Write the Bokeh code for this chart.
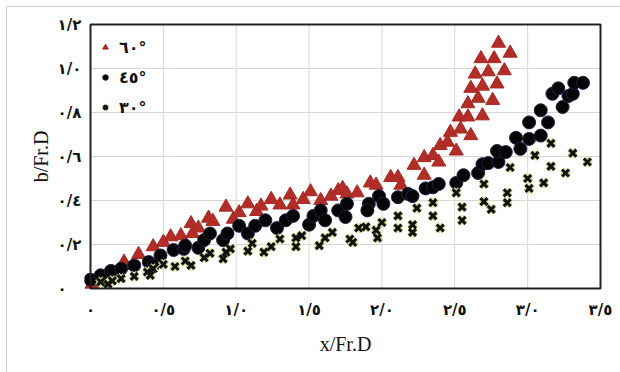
from math import pi
from bokeh.plotting import figure
from bokeh.models import Legend, LegendItem, Range1d, BoxAnnotation
from bokeh.layouts import row
from bokeh.core.properties import value
from bokeh.embed import file_html
from bokeh.resources import INLINE

# ---- data ----
x_60 = [0.01, 0.05, 0.14, 0.23, 0.24, 0.33, 0.43, 0.50, 0.55, 0.62, 0.69, 0.70, 0.74, 0.81, 0.84,
        0.93, 0.98, 1.02, 1.08, 1.14, 1.17, 1.24, 1.30, 1.37, 1.39, 1.46, 1.51, 1.58, 1.65, 1.70,
        1.73, 1.76, 1.83, 1.92, 1.96, 2.06, 2.11, 2.13, 2.22, 2.29, 2.29, 2.35, 2.39, 2.40, 2.45,
        2.47, 2.51, 2.54, 2.53, 2.59, 2.61, 2.59, 2.61, 2.66, 2.64, 2.69, 2.69, 2.68, 2.73, 2.76,
        2.77, 2.79, 2.80, 2.84, 2.88]
b_60 = [0.02, 0.045, 0.07, 0.12, 0.105, 0.155, 0.19, 0.21, 0.235, 0.24, 0.295, 0.25, 0.275, 0.32, 0.305,
        0.37, 0.315, 0.345, 0.385, 0.35, 0.375, 0.405, 0.38, 0.425, 0.38, 0.405, 0.44, 0.40, 0.42, 0.445,
        0.455, 0.43, 0.435, 0.48, 0.47, 0.505, 0.505, 0.47, 0.56, 0.595, 0.515, 0.605, 0.575, 0.65, 0.665,
        0.71, 0.625, 0.725, 0.78, 0.78, 0.695, 0.84, 0.91, 0.865, 0.975, 0.92, 0.785, 1.045, 0.985, 0.855,
        1.045, 0.93, 1.115, 0.99, 1.07]

x_45 = [0.00, 0.07, 0.14, 0.21, 0.30, 0.40, 0.43, 0.48, 0.57, 0.64, 0.65, 0.74, 0.78, 0.82, 0.91,
        0.94, 1.02, 1.08, 1.13, 1.20, 1.28, 1.34, 1.39, 1.50, 1.53, 1.58, 1.61, 1.70, 1.76, 1.75,
        1.91, 1.90, 1.98, 2.01, 2.11, 2.18, 2.21, 2.30, 2.35, 2.39, 2.51, 2.56, 2.66, 2.69, 2.73,
        2.80, 2.79, 2.85, 2.92, 2.95, 3.01, 3.01, 3.09, 3.09, 3.14, 3.17, 3.21, 3.24, 3.28, 3.31,
        3.32, 3.38]
b_45 = [0.04, 0.06, 0.08, 0.09, 0.105, 0.12, 0.105, 0.15, 0.175, 0.18, 0.195, 0.185, 0.22, 0.25, 0.22,
        0.25, 0.285, 0.25, 0.285, 0.31, 0.275, 0.31, 0.33, 0.29, 0.33, 0.355, 0.31, 0.355, 0.385, 0.325,
        0.385, 0.355, 0.42, 0.385, 0.415, 0.43, 0.42, 0.455, 0.46, 0.475, 0.48, 0.515, 0.525, 0.565, 0.57,
        0.575, 0.625, 0.62, 0.685, 0.635, 0.68, 0.755, 0.695, 0.81, 0.755, 0.885, 0.91, 0.825, 0.875, 0.885,
        0.935, 0.935]

x_30 = [0.07, 0.12, 0.15, 0.21, 0.30, 0.39, 0.41, 0.43, 0.50, 0.58, 0.65, 0.69, 0.78, 0.82, 0.91,
        0.93, 0.96, 1.08, 1.11, 1.19, 1.24, 1.30, 1.41, 1.41, 1.45, 1.57, 1.61, 1.66, 1.78, 1.80,
        1.84, 1.89, 1.96, 1.97, 2.00, 2.11, 2.11, 2.21, 2.21, 2.24, 2.35, 2.35, 2.40, 2.51, 2.55,
        2.55, 2.70, 2.70, 2.75, 2.86, 2.86, 2.88, 3.00, 3.01, 3.05, 3.11, 3.16, 3.16, 3.26, 3.31,
        3.41]
b_30 = [0.03, 0.02, 0.035, 0.045, 0.055, 0.075, 0.06, 0.09, 0.11, 0.10, 0.125, 0.105, 0.14, 0.16, 0.135,
        0.165, 0.18, 0.17, 0.205, 0.165, 0.19, 0.225, 0.19, 0.23, 0.24, 0.195, 0.23, 0.255, 0.225, 0.21,
        0.275, 0.28, 0.265, 0.23, 0.30, 0.33, 0.275, 0.29, 0.255, 0.365, 0.39, 0.33, 0.275, 0.435, 0.37,
        0.31, 0.475, 0.395, 0.36, 0.435, 0.39, 0.55, 0.50, 0.455, 0.605, 0.48, 0.66, 0.555, 0.525, 0.615,
        0.575]

series_labels = ["٦٠°", "٤٥°", "٣٠°"]

x_ticks = [0, 0.5, 1.0, 1.5, 2.0, 2.5, 3.0, 3.5]
x_tick_labels = ["٠", "٠/٥", "١/٠", "١/٥", "٢/٠", "٢/٥", "٣/٠", "٣/٥"]
y_ticks = [0, 0.2, 0.4, 0.6, 0.8, 1.0, 1.2]
y_tick_labels = ["٠", "٠/٢", "٠/٤", "٠/٦", "٠/٨", "١/٠", "١/٢"]
x_title = "x/Fr.D"
y_title = "b/Fr.D"

# ---- layout constants (pixels) ----
H = 365                 # height of both panels
TOP, BOTTOM = 17, 84    # space above / below the data box
LEFT_W = 77             # width of the label strip on the left
MAIN_W = 536            # width of the main panel
PAD_L, PAD_R = 6, 20    # space left / right of the data box in the main panel
x_min, x_max = x_ticks[0], x_ticks[-1]
y_min, y_max = y_ticks[0], y_ticks[-1]
ppu = (H - TOP - BOTTOM) / (y_max - y_min)          # pixels per y unit
ppx = (MAIN_W - PAD_L - PAD_R) / (x_max - x_min)    # pixels per x unit
y_range = Range1d(y_min - BOTTOM / ppu, y_max + TOP / ppu)
x_range = Range1d(x_min - PAD_L / ppx, x_max + PAD_R / ppx)

GRID = "#ddd6d0"
INK = "#111111"

# ---- main panel ----
p = figure(width=MAIN_W, height=H, output_backend="svg", toolbar_location=None,
           x_range=x_range, y_range=y_range,
           x_axis_location=None, y_axis_location=None,
           min_border_left=0, min_border_right=0, min_border_top=0, min_border_bottom=0)
p.grid.visible = False
p.outline_line_color = None
p.background_fill_color = "white"
p.border_fill_color = "white"

# grid lines inside the data box
p.segment(x0=x_ticks, y0=[y_min] * len(x_ticks), x1=x_ticks, y1=[y_max] * len(x_ticks),
          line_color=GRID, line_width=1)
p.segment(x0=[x_min] * len(y_ticks), y0=y_ticks, x1=[x_max] * len(y_ticks), y1=y_ticks,
          line_color=GRID, line_width=1)

r60 = p.scatter(x_60, b_60, marker="triangle", size=14, fill_color="#b22d27",
                line_color="#a82823", line_width=1)
r45 = p.scatter(x_45, b_45, marker="circle", size=13, fill_color="#050505",
                line_color="#1d2244", line_width=1)
r30h = p.scatter(x_30, b_30, marker="x", size=10, line_color="#d3de95", line_width=5.5)
r30 = p.scatter(x_30, b_30, marker="x", size=10, line_color=INK, line_width=3)

# frame of the data box
p.add_layout(BoxAnnotation(left=x_min, right=x_max, bottom=y_min, top=y_max,
                           fill_color=None, fill_alpha=0,
                           line_color="#222222", line_alpha=1, line_width=2))

# x tick labels and x title
p.text(x=x_ticks, y=[y_min - 21 / ppu] * len(x_ticks), text=x_tick_labels,
       text_align="center", text_baseline="middle",
       text_font=value("DejaVu Sans"), text_font_style="bold",
       text_font_size="15px", text_color=INK)
p.text(x=[(x_min + x_max) / 2], y=[y_min - 55 / ppu], text=[x_title],
       text_align="center", text_baseline="middle",
       text_font=value("Liberation Serif"), text_font_size="20px", text_color=INK)

legend = Legend(items=[LegendItem(label=series_labels[0], renderers=[r60]),
                       LegendItem(label=series_labels[1], renderers=[r45]),
                       LegendItem(label=series_labels[2], renderers=[r30h, r30])],
                location=(8 + PAD_L, 250), margin=0, padding=0, spacing=0,
                glyph_width=14, glyph_height=30, label_height=30, label_standoff=7,
                border_line_color=None, background_fill_alpha=0,
                label_text_font="DejaVu Sans", label_text_font_style="bold",
                label_text_font_size="16px", label_text_color=INK)
p.add_layout(legend)

# ---- left strip: y tick labels (left aligned, as in the reference) and y title ----
pl = figure(width=LEFT_W, height=H, output_backend="svg", toolbar_location=None,
            x_range=Range1d(0, LEFT_W), y_range=y_range,
            x_axis_location=None, y_axis_location=None,
            min_border_left=0, min_border_right=0, min_border_top=0, min_border_bottom=0)
pl.grid.visible = False
pl.outline_line_color = None
pl.background_fill_color = "white"
pl.border_fill_color = "white"
pl.text(x=[50] * len(y_ticks), y=y_ticks, text=y_tick_labels,
        text_align="left", text_baseline="middle",
        text_font=value("DejaVu Sans"), text_font_style="bold",
        text_font_size="15px", text_color=INK)
pl.text(x=[33], y=[(y_min + y_max) / 2], text=[y_title], angle=pi / 2,
        text_align="center", text_baseline="middle",
        text_font=value("Liberation Serif"), text_font_size="20px", text_color=INK)

layout = row(pl, p)
layout.styles = {"margin-left": "6px", "margin-top": "6px",
                 "border-left": "1px solid #cfcfcf", "border-top": "1px solid #cfcfcf"}

open("out.html", "w").write(file_html(layout, INLINE))
